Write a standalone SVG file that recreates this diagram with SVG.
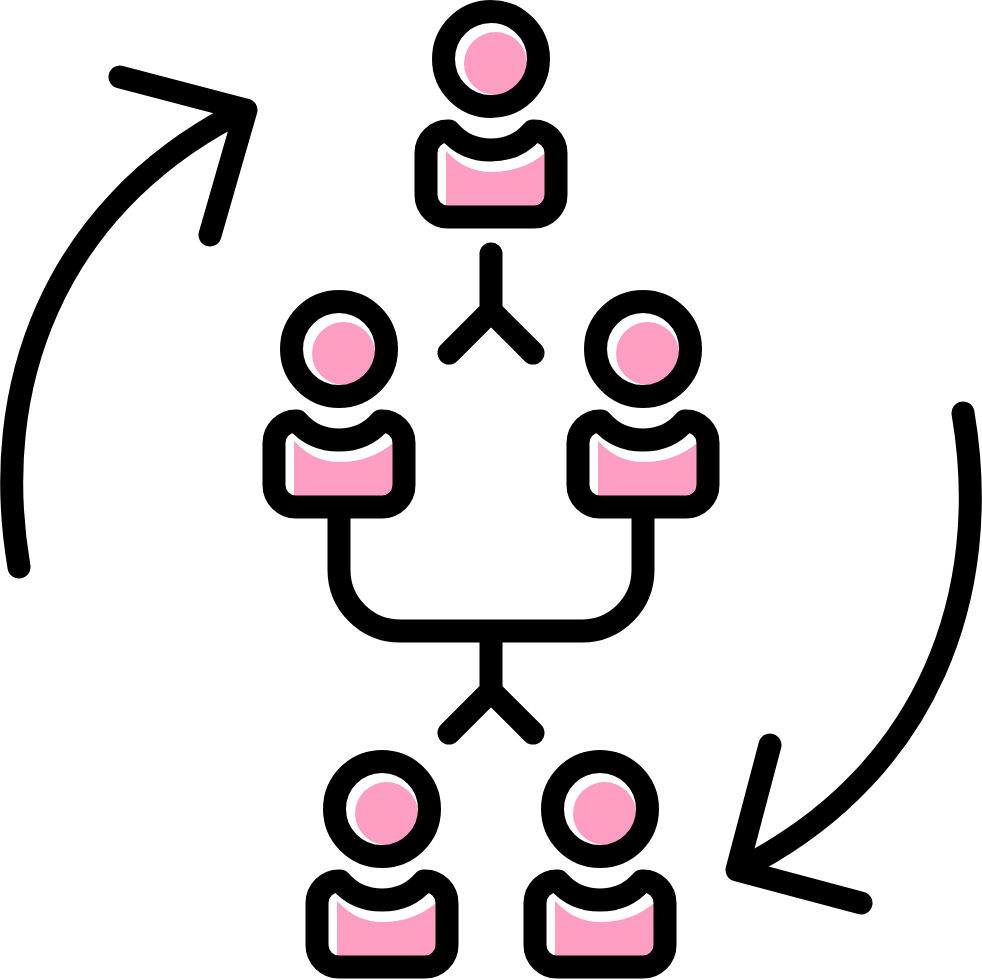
<svg xmlns="http://www.w3.org/2000/svg" width="982" height="980" viewBox="0 0 982 980">
<style>
.k{fill:none;stroke:#000;stroke-width:23;stroke-linecap:round;stroke-linejoin:round}
.p{fill:#fe9ec3}
</style>
<defs>
<g id="person">
<circle class="p" cx="4.5" cy="4.5" r="31.5"/>
<path class="p" d="M-45 94V92C-30 108-15 113 0 113C22 113 40 106 54 94V141Q54 147 48 147H-45Z"/>
<circle class="k" cx="0" cy="0" r="47.5"/>
<path class="k" d="M-42 72C-31 85-16 91 0 91C16 91 31 85 42 72H43A22 22 0 0 1 65 94V136A22 22 0 0 1 43 158H-43A22 22 0 0 1-65 136V94A22 22 0 0 1-43 72Z"/>
</g>
</defs>
<rect width="982" height="980" fill="#fff"/>
<g id="connectors">
<path class="k" d="M491 254V311M449 353L491 311L533 353"/>
<path class="k" d="M339 515V570A61 61 0 0 0 400 631H582A61 61 0 0 0 643 570V515"/>
<path class="k" d="M491 640V691M449 733L491 691L533 733"/>
<path class="k" d="M19 567C-12 385 55 210 232 116"/>
<path class="k" d="M120 77L246 110L210 235"/>
<path class="k" d="M963 413C994 595 927 770 750 864"/>
<path class="k" d="M770 745L737 870L861 903"/>
</g>
<g id="node-top"><use href="#person" x="491" y="59"/></g>
<g id="node-left"><use href="#person" x="339" y="349"/></g>
<g id="node-right"><use href="#person" x="643" y="349"/></g>
<g id="node-bottom-left"><use href="#person" x="382" y="809"/></g>
<g id="node-bottom-right"><use href="#person" x="600" y="809"/></g>
</svg>
